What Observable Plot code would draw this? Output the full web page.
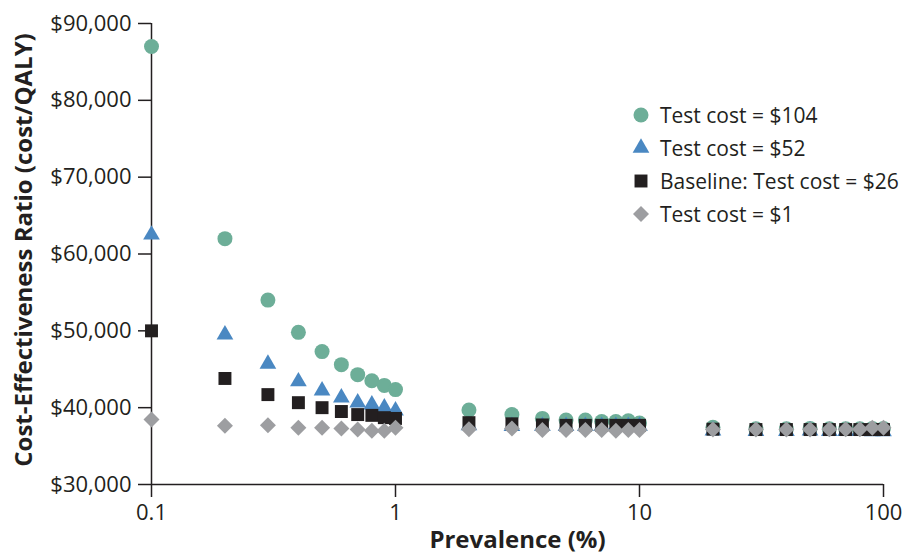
<!DOCTYPE html>
<html><head><meta charset="utf-8">
<script src="https://cdn.jsdelivr.net/npm/d3@7"></script>
<script src="https://cdn.jsdelivr.net/npm/@observablehq/plot@0.6"></script>
<style>
body{margin:0;background:#fff;font-family:"Open Sans",sans-serif;color:#231f20;}
#wrap{position:relative;width:904px;height:554px;overflow:hidden;}
#legend{position:absolute;left:630px;top:98px;}
.item{position:absolute;left:0;height:33px;display:flex;align-items:center;white-space:nowrap;font-size:21px;}
.item svg{width:22px;height:22px;margin-right:8px;}
</style></head><body><div id="wrap"><div id="legend"></div></div>
<script>
const prevalence = [0.1,0.2,0.3,0.4,0.5,0.6,0.7,0.8,0.9,1,2,3,4,5,6,7,8,9,10,20,30,40,50,60,70,80,90,100];
const cost104 = [87000,62000,54000,49800,47300,45600,44300,43500,42900,42350,39700,39100,38600,38400,38400,38200,38200,38300,38000,37450,37250,37250,37300,37250,37250,37250,37300,37300];
const cost52  = [62500,49500,45700,43400,42200,41300,40650,40400,40000,39600,37700,37600,37600,37600,37600,37600,37600,37600,37600,37000,36950,36950,37000,36950,36950,36950,36900,36900];
const cost26  = [50000,43800,41700,40650,40000,39500,39100,39000,38700,38600,38050,37900,37750,37700,37700,37700,37700,37700,37700,37200,37150,37150,37150,37150,37150,37150,37150,37150];
const cost1   = [38450,37650,37700,37400,37400,37300,37150,37000,37000,37400,37200,37300,37100,37100,37100,37100,37000,37100,37100,37150,37150,37150,37150,37200,37200,37200,37400,37400];
const seriesNames = ["Test cost = $104","Test cost = $52","Baseline: Test cost = $26","Test cost = $1"];
const seriesColors = ["#6dae98","#4a88c2","#231f20","#9d9ea1"];
const seriesSymbols = ["circle","triangle","square","diamond2"];
const seriesR = [7.5,6.2,7.3,7.2];
const xTicks = [0.1,1,10,100];
const yTicks = [30000,40000,50000,60000,70000,80000,90000];
const xLabel = "Prevalence (%)";
const yLabel = "Cost-Effectiveness Ratio (cost/QALY)";

const seriesValues = [cost104,cost52,cost26,cost1];
const rows = (vals) => prevalence.map((p,i)=>({p, v: vals[i]}));
const ink = "#231f20";

const chart = Plot.plot({
  width: 904, height: 554,
  marginLeft: 151, marginRight: 21, marginTop: 23, marginBottom: 70,
  style: {fontFamily: "'Open Sans', sans-serif", fontSize: "22px", color: ink, background: "#fff", overflow: "visible"},
  x: {type: "log", domain: [0.1, 100]},
  y: {domain: [30000, 90000]},
  marks: [
    Plot.axisX({ticks: xTicks, tickFormat: d => String(d), tickSize: 13, tickPadding: 7, label: null, stroke: ink, strokeWidth: 1.5, strokeOpacity: 1, fill: ink}),
    Plot.axisY({ticks: yTicks, tickFormat: d3.format("$,"), tickSize: 13, tickPadding: 7, label: null, stroke: ink, strokeWidth: 1.5, strokeOpacity: 1, fill: ink}),
    Plot.ruleX([0.1], {stroke: ink, strokeWidth: 1.5}),
    Plot.ruleY([30000], {stroke: ink, strokeWidth: 1.5}),
    ...seriesValues.map((vals, k) => Plot.dot(rows(vals), {x: "p", y: "v", symbol: seriesSymbols[k], r: seriesR[k], fill: seriesColors[k], stroke: "none"})),
    Plot.text([xLabel], {frameAnchor: "bottom", dy: 63, fontWeight: "bold", fontSize: 24, fill: ink}),
    Plot.text([yLabel], {frameAnchor: "left", textAnchor: "middle", dx: -127, dy: -4, rotate: -90, fontWeight: "bold", fontSize: 24, fill: ink})
  ]
});
document.getElementById("wrap").prepend(chart);

const legend = document.getElementById("legend");
seriesNames.forEach((name, k) => {
  const item = document.createElement("div");
  item.className = "item";
  item.style.top = (k * 33) + "px";
  const sym = d3.symbol(d3["symbol" + {circle:"Circle",triangle:"Triangle",square:"Square",diamond2:"Diamond2"}[seriesSymbols[k]]], Math.PI * seriesR[k] * seriesR[k])();
  item.innerHTML = `<svg viewBox="-11 -11 22 22"><path d="${sym}" fill="${seriesColors[k]}"/></svg><span>${name}</span>`;
  legend.appendChild(item);
});
</script>
</body></html>
